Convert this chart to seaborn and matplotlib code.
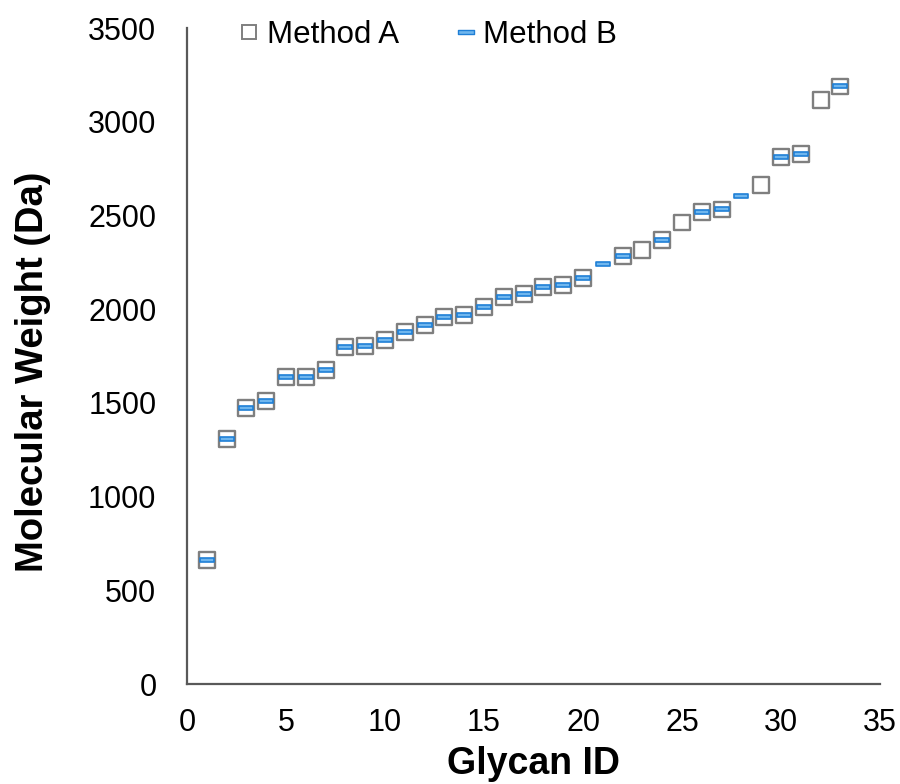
import numpy as np
import pandas as pd
import matplotlib
matplotlib.use("Agg")
import matplotlib.pyplot as plt
from matplotlib.path import Path
from matplotlib.lines import Line2D
import seaborn as sns

# ---- data ----
glycan_a = [1, 2, 3, 4, 5, 6, 7, 8, 9, 10, 11, 12, 13, 14, 15, 16, 17, 18, 19, 20,
            22, 23, 24, 25, 26, 27, 29, 30, 31, 32, 33]
mw_a = [662, 1308, 1472, 1512, 1636, 1640, 1676, 1797, 1803, 1836, 1876, 1915, 1958, 1968,
        2010, 2064, 2080, 2118, 2128, 2166, 2282, 2314, 2368, 2462, 2518, 2532,
        2662, 2810, 2826, 3114, 3188]
glycan_b = [1, 2, 3, 4, 5, 6, 7, 8, 9, 10, 11, 12, 13, 14, 15, 16, 17, 18, 19, 20,
            21, 22, 24, 26, 27, 28, 30, 31, 33]
mw_b = [662, 1308, 1472, 1512, 1636, 1640, 1676, 1797, 1803, 1836, 1876, 1915, 1958, 1968,
        2010, 2064, 2080, 2118, 2128, 2166, 2242, 2282, 2368, 2518, 2532, 2604,
        2810, 2826, 3188]
series_names = ["Method A", "Method B"]
x_ticks = [0, 5, 10, 15, 20, 25, 30, 35]
y_ticks = [0, 500, 1000, 1500, 2000, 2500, 3000, 3500]

df_a = pd.DataFrame({"Glycan ID": glycan_a, "MW": mw_a})
df_b = pd.DataFrame({"Glycan ID": glycan_b, "MW": mw_b})

sns.set_style("white")
plt.rcParams["font.family"] = ["Liberation Sans", "DejaVu Sans"]

fig = plt.figure(figsize=(9, 7.84), dpi=100)
ax = fig.add_axes([187 / 900, 1 - 684 / 784, (880 - 187) / 900, (684 - 28) / 784])

gray = "#7f7f7f"
blue_edge = "#1f7fd6"
blue_face = "#6fb6ee"

dash = Path([(-1, -0.28), (1, -0.28), (1, 0.28), (-1, 0.28), (-1, -0.28)],
            [Path.MOVETO, Path.LINETO, Path.LINETO, Path.LINETO, Path.CLOSEPOLY])

sns.scatterplot(data=df_a, x="Glycan ID", y="MW", ax=ax, marker="s", s=130,
                facecolor="none", edgecolor=gray, linewidth=1.7, zorder=3, legend=False)
sns.scatterplot(data=df_b, x="Glycan ID", y="MW", ax=ax, marker=dash, s=95,
                color=blue_face, edgecolor=blue_edge, linewidth=1.2, zorder=4, legend=False)

ax.set_xlim(0, 35)
ax.set_ylim(0, 3500)
ax.set_xticks(x_ticks)
ax.set_yticks(y_ticks)
ax.tick_params(axis="both", length=0, labelsize=22, colors="black")
ax.tick_params(axis="x", pad=17)
ax.tick_params(axis="y", pad=22)

for side in ["top", "right"]:
    ax.spines[side].set_visible(False)
for side in ["left", "bottom"]:
    ax.spines[side].set_color("#595959")
    ax.spines[side].set_linewidth(1.6)

ax.set_xlabel("Glycan ID", fontsize=27, fontweight="bold", color="black")
ax.set_ylabel("Molecular Weight (Da)", fontsize=27.5, fontweight="bold", color="black")
ax.xaxis.set_label_coords(0.5007, -0.094)
ax.yaxis.set_label_coords(-0.196, 0.476)

handles = [
    Line2D([], [], linestyle="none", marker="s", markersize=10, markerfacecolor="none",
           markeredgecolor=gray, markeredgewidth=1.4),
    Line2D([], [], linestyle="none", marker=dash, markersize=11, markerfacecolor=blue_face,
           markeredgecolor=blue_edge, markeredgewidth=1.0),
]
fig.legend(handles, series_names, loc="center left", bbox_to_anchor=(240 / 900, 1 - 35 / 784),
           ncol=2, frameon=False, fontsize=22.5, handlelength=0.6, handletextpad=0.25,
           columnspacing=1.86, borderaxespad=0, borderpad=0, labelcolor="black")

fig.savefig("out.png", dpi=100, facecolor="white")
